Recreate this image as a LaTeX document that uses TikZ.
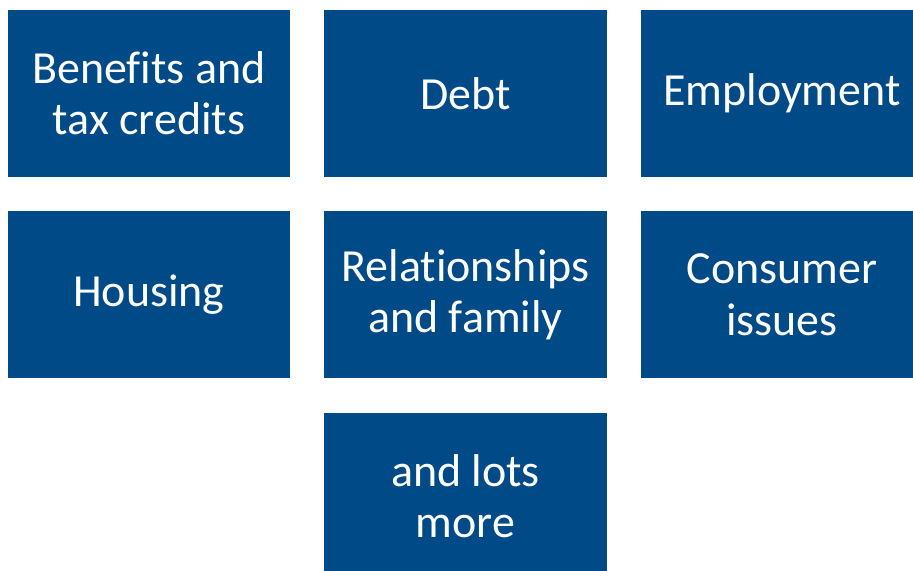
\documentclass[tikz,border=0pt]{standalone}
\usepackage{fontspec}
\setmainfont[Ligatures=NoCommon]{Carlito}
\usepackage{tikz}
\definecolor{cabblue}{RGB}{0,74,135}

\begin{document}
\begin{tikzpicture}[x=0.025cm,y=-0.025cm,
    topic/.style={fill=cabblue,text=white,inner sep=0pt,
      minimum width=7.05cm,minimum height=4.175cm,align=center,
      font=\fontsize{32.7}{36.3}\selectfont}]
      \useasboundingbox (0,0) rectangle (913,571);
      \clip (0,0) rectangle (913,571);
      % first row
      \node[topic] (benefits) at (149,93.5) {Benefits and\\tax credits};
      \node[topic] (debt) at (465.5,93.5) {Debt};
      \node[topic] (employment) at (782,93.5) {Employment};
      % second row
      \node[topic] (housing) at (149,294.75) {Housing};
      \node[topic] (family) at (465.5,294.75) {Relationships\\and family};
      \node[topic] (consumer) at (782,294.75) {Consumer\\issues};
      % last one
      \node[topic] (more) at (465.5,496.5) {and lots\\more};
    \end{tikzpicture}
\end{document}
